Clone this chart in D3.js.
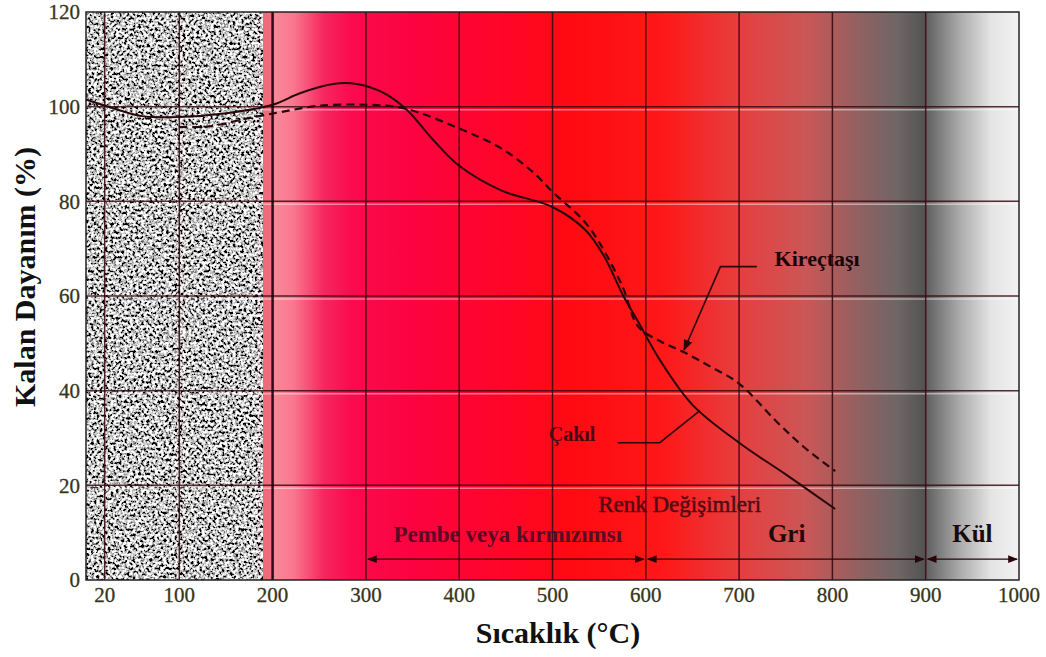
<!DOCTYPE html>
<html>
<head>
<meta charset="utf-8">
<script src="https://cdn.jsdelivr.net/npm/d3@7"></script>
<style>
  body { margin: 0; background: #fff; }
  svg { display: block; }
  .tick-label { font-family: "Liberation Serif", "DejaVu Serif", serif; font-size: 21px; fill: #36361a; stroke: #36361a; stroke-width: 0.3px; }
  .axis-title { font-family: "Liberation Serif", serif; font-size: 30px; font-weight: bold; fill: #111; }
  .note { font-family: "Liberation Serif", serif; fill: #4a0812; }
</style>
</head>
<body>
<div id="chart"></div>
<script>
// Chart data
var tempTicks = [20, 100, 200, 300, 400, 500, 600, 700, 800, 900, 1000];
var strengthTicks = [0, 20, 40, 60, 80, 100, 120];

// Çakıl (solid curve)
var cakilTemp = [0, 30, 60, 100, 150, 200, 230, 265, 290, 318, 344, 372, 400, 445, 500, 535, 555, 576, 592, 615, 650, 700, 750, 803];
var cakilStrength = [101.5, 99.6, 98, 97.8, 98.6, 100.4, 102.9, 104.8, 104.8, 103, 99.3, 93, 87.5, 82.3, 78.8, 74, 68.5, 60, 54.5, 46.5, 37, 29, 22.3, 15];

// Kireçtaşı (dashed curve)
var kirecTemp = [100, 130, 175, 210, 250, 300, 340, 400, 445, 480, 500, 533, 551, 575, 592, 615, 640, 670, 700, 740, 770, 803];
var kirecStrength = [95.7, 95.8, 97.6, 98.9, 100.2, 100.4, 99.7, 95.4, 91.2, 86, 82, 76, 71, 62, 53.5, 50.5, 48.2, 45, 41.5, 33.5, 28, 23];

// Colour change bands
var bandNames = ["Pembe veya kırmızımsı", "Gri", "Kül"];
var bandStart = [300, 600, 900];
var bandEnd = [600, 900, 1000];

var svgWidth = 1046, svgHeight = 657;
var margin = { top: 12, right: 27, bottom: 77, left: 86 };
var width = svgWidth - margin.left - margin.right;
var height = svgHeight - margin.top - margin.bottom;

var svg = d3.select("#chart").append("svg")
    .attr("width", svgWidth)
    .attr("height", svgHeight);

var x = d3.scaleLinear().domain([0, 1000]).range([0, width]);
var y = d3.scaleLinear().domain([0, 120]).range([height, 0]);

var noiseEnd = 189;

var defs = svg.append("defs");

// background colour gradient (red zone fading to grey)
var g1 = defs.append("linearGradient").attr("id", "heat")
    .attr("gradientUnits", "userSpaceOnUse")
    .attr("x1", x(noiseEnd)).attr("x2", x(900)).attr("y1", 0).attr("y2", 0);
[[189, "#f0687a"], [199, "#f26c7d"], [203, "#fb8797"], [222, "#f97890"], [255, "#f6265e"],
 [285, "#fa0a4e"], [350, "#fc0340"], [450, "#ff0628"], [520, "#ff0a12"], [620, "#fe1818"],
 [700, "#e63e3e"], [770, "#cc5656"], [825, "#956060"], [870, "#6e6666"], [900, "#525252"]].forEach(function(s) {
    g1.append("stop").attr("offset", (s[0] - noiseEnd) / (900 - noiseEnd)).attr("stop-color", s[1]);
});

var g2 = defs.append("linearGradient").attr("id", "ash")
    .attr("gradientUnits", "userSpaceOnUse")
    .attr("x1", x(900)).attr("x2", x(1000)).attr("y1", 0).attr("y2", 0);
[[0, "#5e5e5e"], [0.35, "#a8a8a8"], [0.7, "#e4e4e4"], [1, "#f2f2f2"]].forEach(function(s) {
    g2.append("stop").attr("offset", s[0]).attr("stop-color", s[1]);
});

// speckled texture for the low temperature zone
var grain = defs.append("filter").attr("id", "grain")
    .attr("filterUnits", "userSpaceOnUse")
    .attr("x", 0).attr("y", 0).attr("width", x(noiseEnd)).attr("height", height);
grain.append("feTurbulence").attr("type", "fractalNoise")
    .attr("baseFrequency", 0.36).attr("numOctaves", 2).attr("seed", 7);
grain.append("feColorMatrix").attr("type", "matrix")
    .attr("values", "1 0 0 0 0  1 0 0 0 0  1 0 0 0 0  0 0 0 0 1");
var ct = grain.append("feComponentTransfer");
["feFuncR", "feFuncG", "feFuncB"].forEach(function(f) {
    ct.append(f).attr("type", "linear").attr("slope", 3.6).attr("intercept", -1.25);
});

var markerEnd = defs.append("marker").attr("id", "arrow")
    .attr("viewBox", "0 0 10 10").attr("refX", 9).attr("refY", 5)
    .attr("markerWidth", 7).attr("markerHeight", 7).attr("orient", "auto-start-reverse");
markerEnd.append("path").attr("d", "M0,1 L10,5 L0,9 z").attr("fill", "#2a0508");

var chartGroup = svg.append("g")
    .attr("transform", `translate(${margin.left}, ${margin.top})`);

// backgrounds
chartGroup.append("rect")
    .attr("x", x(noiseEnd) - 1).attr("y", 0)
    .attr("width", x(900) - x(noiseEnd) + 1).attr("height", height)
    .attr("fill", "url(#heat)");
chartGroup.append("rect")
    .attr("x", x(900)).attr("y", 0)
    .attr("width", x(1000) - x(900)).attr("height", height)
    .attr("fill", "url(#ash)");
chartGroup.append("rect")
    .attr("x", 0).attr("y", 0)
    .attr("width", x(noiseEnd)).attr("height", height)
    .attr("fill", "#999")
    .attr("filter", "url(#grain)");

// horizontal grid (dark line with a pale line underneath)
var hGrid = strengthTicks.filter(function(d) { return d > 0 && d < 120; });
chartGroup.selectAll(".hgrid-light")
    .data(hGrid).enter().append("line")
    .attr("x1", 0).attr("x2", width)
    .attr("y1", d => y(d) + 3).attr("y2", d => y(d) + 3)
    .attr("stroke", "rgba(255,255,255,0.45)").attr("stroke-width", 1.5);
chartGroup.selectAll(".hgrid")
    .data(hGrid).enter().append("line")
    .attr("x1", 0).attr("x2", width)
    .attr("y1", d => y(d)).attr("y2", d => y(d))
    .attr("stroke", "#3a0a10").attr("stroke-opacity", 0.85).attr("stroke-width", 1.5);

// vertical grid
chartGroup.selectAll(".vgrid")
    .data(tempTicks.filter(d => d < 1000)).enter().append("line")
    .attr("x1", d => x(d)).attr("x2", d => x(d))
    .attr("y1", 0).attr("y2", height)
    .attr("stroke", d => d === 200 ? "#14040a" : "#3a0a14")
    .attr("stroke-width", d => d === 200 ? 2.5 : 1.5)
    .attr("stroke-opacity", 0.9);

// frame
chartGroup.append("rect")
    .attr("x", 0).attr("y", 0).attr("width", width).attr("height", height)
    .attr("fill", "none").attr("stroke", "#222").attr("stroke-width", 1.5);

// curves
var lineGen = d3.line()
    .x(d => x(d[0]))
    .y(d => y(d[1]))
    .curve(d3.curveCatmullRom.alpha(0.5));

chartGroup.append("path")
    .datum(d3.zip(cakilTemp, cakilStrength))
    .attr("d", lineGen)
    .attr("fill", "none").attr("stroke", "#2a060a").attr("stroke-width", 2);

chartGroup.append("path")
    .datum(d3.zip(kirecTemp, kirecStrength))
    .attr("d", lineGen)
    .attr("fill", "none").attr("stroke", "#2a060a").attr("stroke-width", 2.2)
    .attr("stroke-dasharray", "8,5");

// curve labels with leaders
var leader = d3.line().x(d => x(d[0])).y(d => y(d[1]));
chartGroup.append("path")
    .datum([[719, 66.2], [680, 66.2], [641, 48.6]])
    .attr("d", leader)
    .attr("fill", "none").attr("stroke", "#2a0508").attr("stroke-width", 1.6)
    .attr("marker-end", "url(#arrow)");
chartGroup.append("text")
    .attr("class", "note")
    .attr("x", x(738)).attr("y", y(66.4))
    .style("font-size", "22px").style("font-weight", "bold").style("fill", "#1a0306")
    .text("Kireçtaşı");

chartGroup.append("path")
    .datum([[570, 29], [615, 29], [658, 35.8]])
    .attr("d", leader)
    .attr("fill", "none").attr("stroke", "#2a0508").attr("stroke-width", 1.6);
chartGroup.append("text")
    .attr("class", "note")
    .attr("x", x(546)).attr("y", y(29.3))
    .attr("text-anchor", "end")
    .style("font-size", "20px").style("font-weight", "bold")
    .text("Çakıl");

// colour change notes
chartGroup.append("text")
    .attr("class", "note")
    .attr("x", x(549)).attr("y", y(14.4))
    .style("font-size", "23px").style("fill", "#520a14")
    .style("stroke", "#520a14").style("stroke-width", "0.5px")
    .text("Renk Değişimleri");

chartGroup.selectAll(".band-line")
    .data(bandStart).enter().append("line")
    .attr("x1", (d, i) => x(d) + 2).attr("x2", (d, i) => x(bandEnd[i]) - 2)
    .attr("y1", y(4.4)).attr("y2", y(4.4))
    .attr("stroke", "#2a0508").attr("stroke-width", 1.4)
    .attr("marker-start", "url(#arrow)")
    .attr("marker-end", "url(#arrow)");

chartGroup.selectAll(".band-label")
    .data(bandNames).enter().append("text")
    .attr("class", "note")
    .attr("x", (d, i) => x(i === 0 ? 452 : (bandStart[i] + bandEnd[i]) / 2 + (i === 1 ? 1 : 0)))
    .attr("y", y(8))
    .attr("text-anchor", "middle")
    .style("font-size", (d, i) => i === 0 ? "23px" : "25px")
    .style("font-weight", "bold")
    .style("fill", (d, i) => i === 0 ? "#5a0a26" : "#1a0a0a")
    .text(d => d);

// tick labels
chartGroup.selectAll(".xlab")
    .data(tempTicks).enter().append("text")
    .attr("class", "tick-label")
    .attr("x", d => x(d)).attr("y", height + 22)
    .attr("text-anchor", "middle")
    .text(d => d);

chartGroup.selectAll(".ylab")
    .data(strengthTicks).enter().append("text")
    .attr("class", "tick-label")
    .attr("x", -6).attr("y", d => y(d))
    .attr("dy", "0.35em")
    .attr("text-anchor", "end")
    .text(d => d);

// axis titles
svg.append("text")
    .attr("class", "axis-title")
    .attr("transform", "translate(35, 277) rotate(-90)")
    .attr("text-anchor", "middle")
    .text("Kalan Dayanım (%)");

svg.append("text")
    .attr("class", "axis-title")
    .attr("x", 558).attr("y", 643)
    .attr("text-anchor", "middle")
    .text("Sıcaklık (°C)");
</script>
</body>
</html>
